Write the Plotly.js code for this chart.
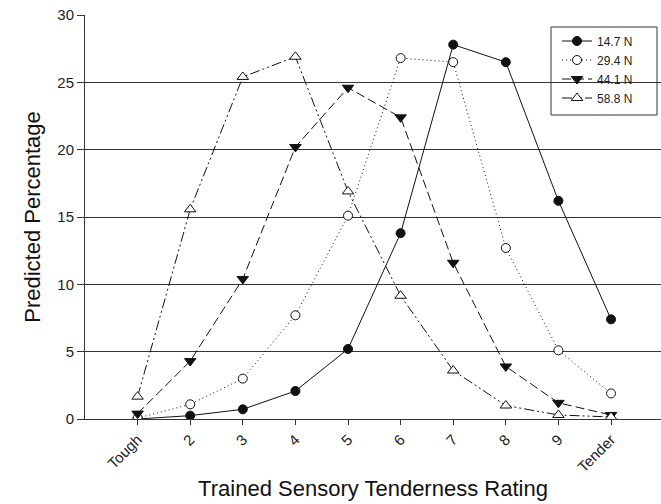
<!DOCTYPE html>
<html>
<head>
<meta charset="utf-8">
<script src="https://cdn.plot.ly/plotly-3.0.1.min.js"></script>
<style>html,body{margin:0;padding:0;background:#fff;}#chart{width:661px;height:504px;}</style>
</head>
<body>
<div id="chart"></div>
<script>
// Tenderness rating positions and labels
var ratings = [1, 2, 3, 4, 5, 6, 7, 8, 9, 10];
var ratingLabels = ["Tough", "2", "3", "4", "5", "6", "7", "8", "9", "Tender"];

// Predicted percentage per force level
var seriesNames = ["14.7 N", "29.4 N", "44.1 N", "58.8 N"];
var pct147 = [0.0, 0.25, 0.72, 2.08, 5.2, 13.8, 27.8, 26.5, 16.2, 7.4];
var pct294 = [0.07, 1.09, 3.0, 7.7, 15.1, 26.8, 26.5, 12.7, 5.1, 1.9];
var pct441 = [0.4, 4.3, 10.4, 20.2, 24.6, 22.4, 11.6, 3.9, 1.2, 0.3];
var pct588 = [1.66, 15.57, 25.4, 26.9, 16.9, 9.15, 3.6, 1.0, 0.3, 0.15];

var yTicks = [0, 5, 10, 15, 20, 25, 30];

var FONT = "Arial, 'Liberation Sans', sans-serif";

function trace(name, y, dash, symbol, fill, size) {
  return {
    x: ratings, y: y, name: name, type: "scatter", mode: "lines+markers",
    line: {color: "#111", width: 1, dash: dash},
    marker: {symbol: symbol, size: size, color: fill, line: {color: "#111", width: 1}}
  };
}

var data = [
  trace(seriesNames[0], pct147, "solid", "circle", "#111", 9),
  trace(seriesNames[1], pct294, "1px,3px", "circle", "#fff", 9),
  trace(seriesNames[2], pct441, "9px,4px", "triangle-down", "#111", 10),
  trace(seriesNames[3], pct588, "10px,3px,2px,3px,2px,3px", "triangle-up", "#fff", 10)
];

var layout = {
  width: 661, height: 504,
  margin: {l: 85, r: 0, t: 15, b: 85},
  paper_bgcolor: "#fff", plot_bgcolor: "#fff",
  font: {family: FONT, color: "#222", size: 13},
  showlegend: true,
  legend: {
    x: (557 - 85) / 576, xanchor: "left", y: (419 - 26.5) / 404, yanchor: "top",
    borderwidth: 0, bgcolor: "rgba(0,0,0,0)",
    font: {family: FONT, size: 12, color: "#222"},
    tracegroupgap: 0
  },
  shapes: [{
    type: "rect", xref: "paper", yref: "paper", layer: "below",
    x0: (551 - 85) / 576, x1: (657 - 85) / 576, y0: (419 - 115) / 404, y1: (419 - 27) / 404,
    line: {color: "#333", width: 1}, fillcolor: "#fff"
  }],
  xaxis: {
    range: [0, 10.95], tickmode: "array", tickvals: ratings, ticktext: ratingLabels,
    tickangle: -45, ticks: "outside", ticklen: 5, tickcolor: "#333",
    showline: true, linecolor: "#333", linewidth: 1, showgrid: false, zeroline: false,
    tickfont: {family: FONT, size: 15, color: "#222"},
    title: {text: "Trained Sensory Tenderness Rating", font: {family: FONT, size: 22, color: "#111"}, standoff: 6}
  },
  yaxis: {
    range: [0, 30], tickmode: "array", tickvals: yTicks,
    ticks: "outside", ticklen: 7, tickcolor: "#333",
    showline: true, linecolor: "#333", linewidth: 1,
    showgrid: true, gridcolor: "#333", gridwidth: 1, zeroline: false,
    tickfont: {family: FONT, size: 15, color: "#222"},
    title: {text: "Predicted Percentage", font: {family: FONT, size: 22, color: "#111"}, standoff: 10}
  }
};

Plotly.newPlot("chart", data, layout, {displayModeBar: false, staticPlot: true});
</script>
</body>
</html>
